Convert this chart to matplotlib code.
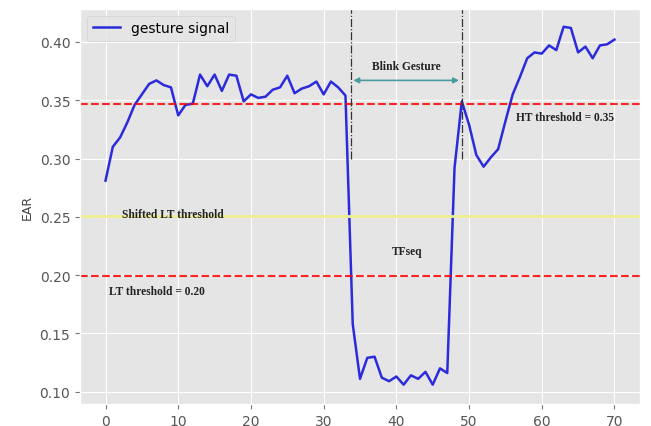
import matplotlib
matplotlib.use("Agg")
import matplotlib.pyplot as plt
import numpy as np

frames = list(range(71))
ear = [0.281, 0.310, 0.318, 0.331, 0.346, 0.355, 0.364, 0.367, 0.363, 0.361,
       0.337, 0.346, 0.347, 0.372, 0.362, 0.372, 0.358, 0.372, 0.371, 0.349,
       0.355, 0.352, 0.353, 0.359, 0.361, 0.371, 0.356, 0.360, 0.362, 0.366,
       0.355, 0.366, 0.361, 0.354, 0.158, 0.111, 0.129, 0.130, 0.112, 0.109,
       0.113, 0.106, 0.114, 0.111, 0.117, 0.106, 0.120, 0.116, 0.292, 0.349,
       0.329, 0.303, 0.293, 0.301, 0.308, 0.332, 0.355, 0.370, 0.386, 0.391,
       0.390, 0.397, 0.393, 0.413, 0.412, 0.391, 0.396, 0.386, 0.397, 0.398,
       0.402]

ht_threshold = 0.347
lt_threshold = 0.199
shifted_lt = 0.251
blink_start = 33.7
blink_end = 49.0

plt.style.use("ggplot")
fig = plt.figure(figsize=(6.51, 4.27), dpi=100)
ax = fig.add_axes([0.123, 0.052, 0.86, 0.925])

ax.plot(frames, ear, color="#2b2bdc", lw=1.8, label="gesture signal")
ax.axhline(ht_threshold, color="red", ls="--", lw=1.5, alpha=0.85)
ax.axhline(lt_threshold, color="red", ls="--", lw=1.5, alpha=0.85)
ax.axhline(shifted_lt, color="#eeee90", ls="-", lw=2)

ax.vlines([blink_start, blink_end], 0.30, 0.44, colors="#333333", linestyles="-.", lw=0.9)
ax.annotate("", xy=(blink_start, 0.367), xytext=(blink_end, 0.367),
            arrowprops=dict(arrowstyle="<|-|>", color="#4a9aa0", lw=1.2, mutation_scale=8))

serif = dict(family="Liberation Serif", fontweight="bold", fontsize=8.3, color="#222222")
ax.text(41.4, 0.379, "Blink Gesture", ha="center", va="center", **serif)
ax.text(56.4, 0.336, "HT threshold = 0.35", ha="left", va="center", **serif)
ax.text(2.2, 0.252, "Shifted LT threshold", ha="left", va="center", **serif)
ax.text(0.5, 0.186, "LT threshold = 0.20", ha="left", va="center", **serif)
ax.text(41.5, 0.221, "TFseq", ha="center", va="center", **serif)

ax.set_ylabel("EAR", fontsize=9, color="#444444")
ax.set_ylim(0.0896, 0.4284)
ax.set_xlim(-3.5, 73.5)
ax.set_xticks(range(0, 71, 10))
ax.set_yticks([0.10, 0.15, 0.20, 0.25, 0.30, 0.35, 0.40])
ax.tick_params(labelsize=10, color="#777777", length=3.5)
ax.legend(loc="upper left", fontsize=10)

fig.savefig("out.png", dpi=100)
